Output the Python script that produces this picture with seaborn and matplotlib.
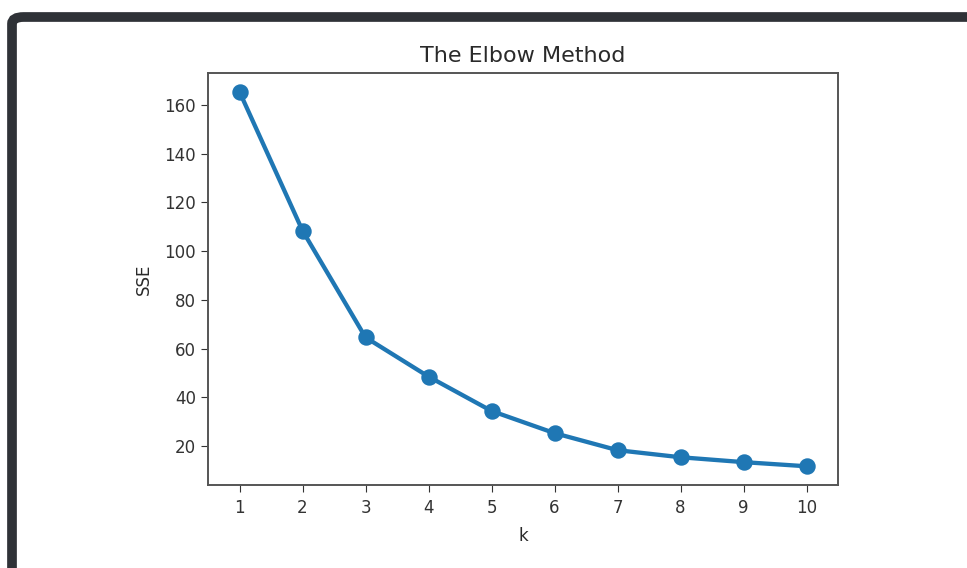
import matplotlib
matplotlib.use("Agg")
import matplotlib.pyplot as plt
from matplotlib.patches import FancyBboxPatch
import seaborn as sns
import pandas as pd

k_values = [1, 2, 3, 4, 5, 6, 7, 8, 9, 10]
sse_values = [165.4, 108.4, 64.6, 48.5, 34.4, 25.3, 18.3, 15.4, 13.4, 11.7]
title = "The Elbow Method"
x_label = "k"
y_label = "SSE"

df = pd.DataFrame({"k": k_values, "SSE": sse_values})

plt.rcParams['font.family'] = ['DejaVu Sans']
fig = plt.figure(figsize=(9.67, 5.68), dpi=100)
fig.patch.set_facecolor("white")

# screenshot frame
W, H = 967.0, 568.0
frame = FancyBboxPatch((12 / W, -40 / H), 1000 / W, (568 - 17 + 40) / H,
                       boxstyle="round,pad=0,rounding_size=0.012",
                       transform=fig.transFigure, facecolor="none",
                       edgecolor="#2f3237", linewidth=7, zorder=-5)
fig.patches.append(frame)

ax = fig.add_axes([208 / W, 1 - 485 / H, 630 / W, 412 / H])
sns.pointplot(data=df, x="k", y="SSE", ax=ax, color="#1f77b4",
              linewidth=3.1, markersize=9.5, errorbar=None)

ax.set_title(title, fontsize=16, color="#2a2a2a", pad=8)
ax.set_xlabel(x_label, fontsize=12, color="#2a2a2a", labelpad=7)
ax.set_ylabel(y_label, fontsize=12, color="#2a2a2a", labelpad=8)
ax.set_yticks([20, 40, 60, 80, 100, 120, 140, 160])
ax.tick_params(labelsize=12, colors="#333333", length=5)
ax.tick_params(axis="x", pad=5)
for s in ax.spines.values():
    s.set_color("#555555")
    s.set_linewidth(1.4)
ax.set_facecolor("white")

fig.savefig("out.png", dpi=100)
